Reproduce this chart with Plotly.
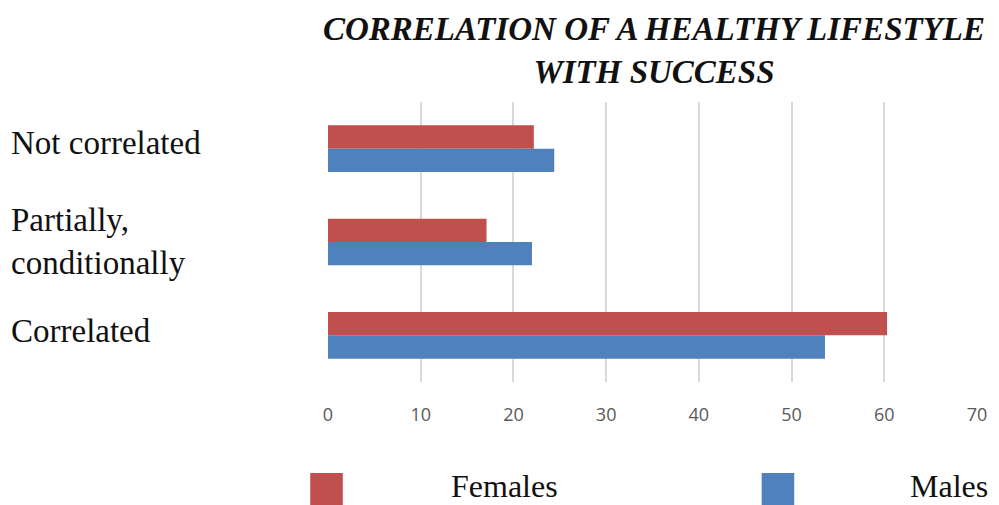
import plotly.graph_objects as go

# Survey responses (%)
categories = ["Not correlated", "Partially,<br>conditionally", "Correlated"]
females = [22.2, 17.1, 60.3]
males = [24.4, 22.0, 53.6]
series_names = ["Females", "Males"]
colors = ["#C0504D", "#4F81BD"]
x_ticks = [0, 10, 20, 30, 40, 50, 60, 70]

W, H = 999, 505
ML, MR, MT, MB = 328, 14, 102, 123
PW, PH = W - ML - MR, H - MT - MB

fig = go.Figure()
for name, vals, col in zip(series_names, [females, males], colors):
    fig.add_trace(go.Bar(
        y=categories, x=vals, name=name, orientation="h",
        marker=dict(color=col, line=dict(width=0)),
        showlegend=False,
    ))

serif = "Liberation Serif, Times New Roman, serif"

annotations = []
# left-aligned category labels
label_shifts = [6, 1, 4]
for cat, dy in zip(categories, label_shifts):
    annotations.append(dict(
        x=(5 - ML) / PW, xref="paper",
        y=cat, yref="y", yshift=dy,
        text=cat, showarrow=False, xanchor="left", yanchor="middle", align="left",
        font=dict(family=serif, size=33, color="#111111"),
    ))

# chart title
annotations.append(dict(
    x=(658 - ML) / PW, xref="paper", xanchor="center",
    y=1 + (MT - 9) / PH, yref="paper", yanchor="top",
    text="CORRELATION OF A HEALTHY LIFESTYLE<br>WITH SUCCESS",
    showarrow=False, align="center",
    font=dict(family=serif, size=33, color="#111111", weight="bold", style="italic"),
))

# legend drawn as swatches with labels
legend_items = [
    (series_names[0], colors[0], 310, 450),
    (series_names[1], colors[1], 767, 915),
]
shapes = []
for name, col, sx, tx in legend_items:
    shapes.append(dict(
        type="rect", xref="paper", yref="paper",
        x0=(sx - ML) / PW, x1=(sx + 33 - ML) / PW,
        y0=-(473 + 33 - (H - MB)) / PH,
        y1=-(473 - (H - MB)) / PH,
        fillcolor=col, line=dict(width=0),
    ))
    annotations.append(dict(
        x=(tx - ML) / PW, xref="paper",
        y=-(486 - (H - MB)) / PH, yref="paper",
        text=name, showarrow=False, xanchor="left", yanchor="middle",
        font=dict(family=serif, size=32, color="#111111"),
    ))

fig.update_layout(
    width=W, height=H,
    margin=dict(l=ML, r=MR, t=MT, b=MB),
    paper_bgcolor="white", plot_bgcolor="white",
    barmode="group", bargap=0.5, bargroupgap=0,
    xaxis=dict(
        range=[0, 70], tickvals=x_ticks, showgrid=True, gridcolor="#D9D9D9", gridwidth=1.5,
        zeroline=False, showline=False, ticks="",
        tickfont=dict(family="Open Sans, Liberation Sans, sans-serif", size=18, color="#595959"),
        ticklabelstandoff=20,
    ),
    yaxis=dict(
        categoryorder="array", categoryarray=categories, autorange="reversed",
        showticklabels=False, showgrid=False, zeroline=False, showline=False, ticks="",
    ),
    shapes=shapes,
    annotations=annotations,
)

fig.write_html("out.html")
